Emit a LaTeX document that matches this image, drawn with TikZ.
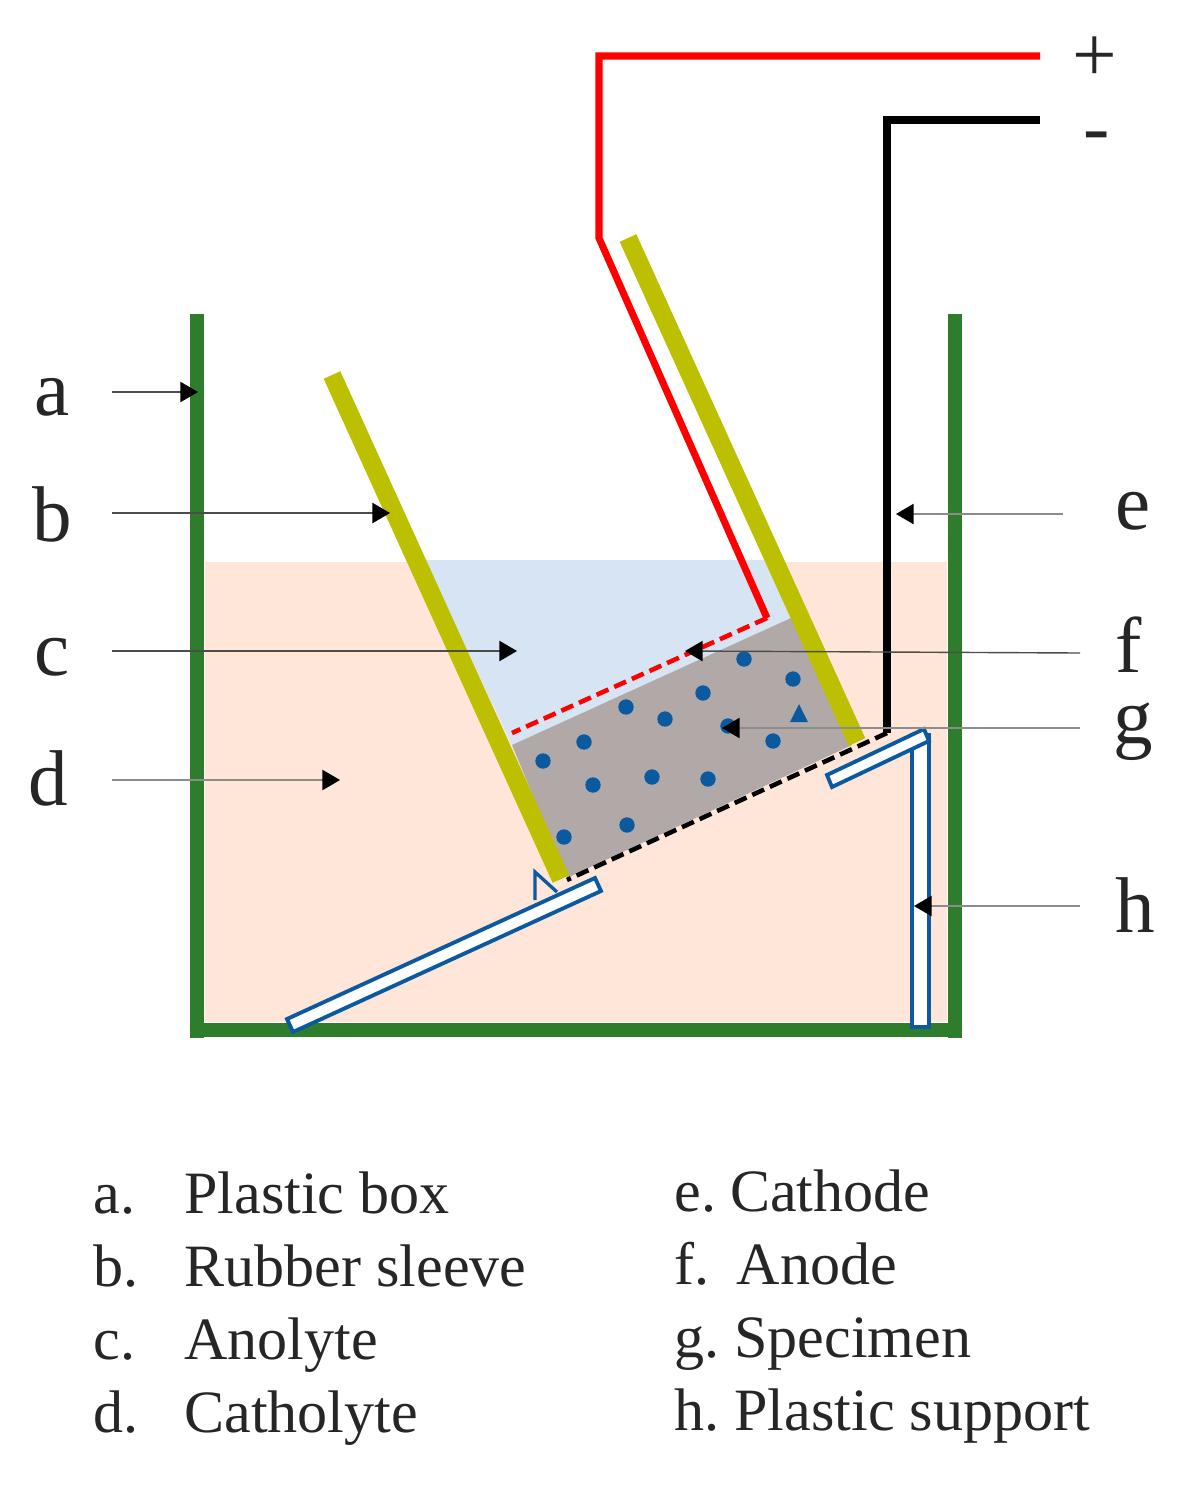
\documentclass[tikz,border=0pt]{standalone}
\usepackage{fontspec}
\setmainfont{Liberation Serif}
\usetikzlibrary{arrows.meta}
\definecolor{boxGreen}{RGB}{46,125,44}
\definecolor{sleeveOlive}{RGB}{189,192,0}
\definecolor{supportBlue}{RGB}{11,90,160}
\definecolor{anolyteBlue}{RGB}{214,228,243}
\definecolor{catholytePeach}{RGB}{255,230,216}
\definecolor{specimenGray}{RGB}{176,169,168}
\definecolor{textGray}{RGB}{38,38,38}

\begin{document}
\begin{tikzpicture}[
    x=0.02cm, y=-0.02cm,
    wall/.style={draw=boxGreen, line width=8.5pt},
    sleeve/.style={draw=sleeveOlive, line width=10.4pt},
    wire/.style={line width=4pt, miter limit=10},
    mesh/.style={line width=2.6pt, dash pattern=on 7.4pt off 3.6pt},
    strip/.style={draw=supportBlue, line width=2.2pt, fill=white, line join=miter},
    arrow/.style={-{Triangle[length=10pt,width=11.5pt,color=black]}, line width=0.8pt, draw=black!70},
    paleArrow/.style={arrow, draw=black!45},
    letter/.style={font=\fontsize{45}{50}\selectfont, anchor=base, inner sep=0pt, text=textGray},
    legend/.style={font=\fontsize{34.2}{40}\selectfont, anchor=base west, inner sep=0pt, text=textGray}
]
  \useasboundingbox (0,0) rectangle (1193,1499);

  % --- Liquids and specimen ---
  \fill[catholytePeach] (205,562) rectangle (947,1022);
  \fill[anolyteBlue] (425,560) -- (775,560) -- (791,618) -- (512,745) -- cycle;
  \fill[specimenGray] (512,745) -- (791,618) -- (852,745) -- (567,878) -- cycle;

  % --- Particles in the specimen ---
  \foreach \px/\py in {543/761, 584/742, 626/707, 665/719, 703/693, 744/659, 793/679,
                       728/726, 773/741, 593/785, 652/777, 708/779, 564/837, 627/825}
    \fill[supportBlue] (\px,\py) circle (7.7);
  \fill[supportBlue] (799,704) -- (808,722) -- (790,722) -- cycle;

  % --- Rubber sleeve ---
  \draw[sleeve] (332,375) -- (561,879);
  \draw[sleeve] (628,238) -- (857,742);

  % --- Wires to the electrodes ---
  \draw[wire, draw=red] (1040,56) -- (599,56) -- (599,238) -- (767,618);
  \draw[mesh, draw=red] (767,618) -- (512,733);
  \draw[wire, draw=black] (1040,120) -- (887,120) -- (887,733);
  \draw[mesh, draw=black] (887,733) -- (567,880);

  % --- Plastic box ---
  \draw[wall] (197,314) -- (197,1038);
  \draw[wall] (955,314) -- (955,1038);
  \draw[wall] (190,1030) -- (962,1030);

  % --- Plastic support ---
  \draw[strip, line width=1.9pt, fill=none] (535,900) -- (535,872) -- (557,892);
  \draw[strip] (287,1019) -- (595,878) -- (601,891) -- (293,1032) -- cycle;
  \draw[strip] (912,735) rectangle (929,1027);
  \draw[strip] (827,775) -- (924,729) -- (929,741) -- (832,787) -- cycle;

  % --- Letters and polarity ---
  \node[letter] (labA) at (52,415) {a};
  \node[letter] (labB) at (52,541) {b};
  \node[letter] (labC) at (52,675) {c};
  \node[letter] (labD) at (48,805) {d};
  \node[letter] (labE) at (1133,529) {e};
  \node[letter] (labF) at (1129,672) {f};
  \node[letter] (labG) at (1133,743) {g};
  \node[letter] (labH) at (1135,932) {h};
  \node[letter] (plus)  at (1095,81) {+};
  \node[letter] (minus) at (1097,153) {-};

  % --- Free ends of the pointers ---
  \coordinate (tailA) at (112,392);
  \coordinate (tailB) at (112,513);
  \coordinate (tailC) at (112,651);
  \coordinate (tailD) at (112,780);
  \coordinate (tailE) at (1063,514);
  \coordinate (tailF) at (1080,653);
  \coordinate (tailG) at (1080,728);
  \coordinate (tailH) at (1080,906);
  \coordinate (tipA) at (198,392);
  \coordinate (tipB) at (390,513);
  \coordinate (tipC) at (517,651);
  \coordinate (tipD) at (340,780);
  \coordinate (tipE) at (896,514);
  \coordinate (tipF) at (685,651);
  \coordinate (tipG) at (722,728);
  \coordinate (tipH) at (914,906);

  \draw[arrow] (tailA) -- (tipA);
  \draw[arrow] (tailB) -- (tipB);
  \draw[arrow] (tailC) -- (tipC);
  \draw[paleArrow] (tailD) -- (tipD);
  \draw[paleArrow] (tailE) -- (tipE);
  \draw[arrow] (tailF) -- (tipF);
  \draw[paleArrow] (tailG) -- (tipG);
  \draw[paleArrow] (tailH) -- (tipH);

  % --- Legend ---
  \node[legend] (keyA) at (93,1213) {a.};
  \node[legend] (keyB) at (93,1286) {b.};
  \node[legend] (keyC) at (93,1359) {c.};
  \node[legend] (keyD) at (93,1432) {d.};
  \node[legend] (nameA) at (184,1213) {Plastic box};
  \node[legend] (nameB) at (184,1286) {Rubber sleeve};
  \node[legend] (nameC) at (184,1359) {Anolyte};
  \node[legend] (nameD) at (184,1432) {Catholyte};
  \node[legend] (keyE) at (674,1211) {e.\kern-0.5pt\ Cathode};
  \node[legend] (keyF) at (674,1284) {f.\kern-1.4pt\ \ Anode};
  \node[legend] (keyG) at (674,1357) {g.\ Specimen};
  \node[legend] (keyH) at (674,1430) {h.\ Plastic support};
\end{tikzpicture}
\end{document}
